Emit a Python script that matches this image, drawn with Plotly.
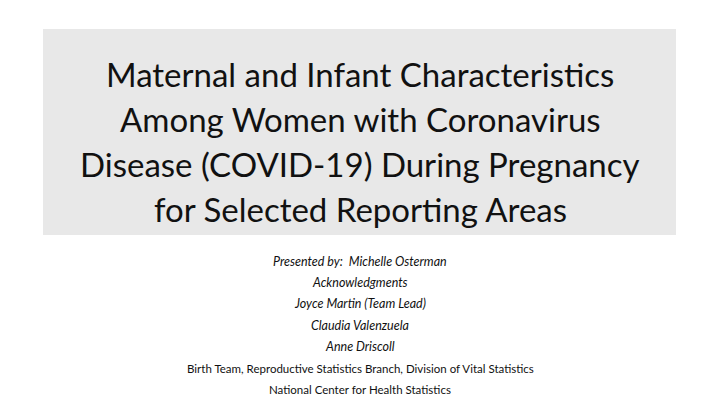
import plotly.graph_objects as go

W, H = 720, 405

title_lines = [
    "Maternal and Infant Characteristics",
    "Among Women with Coronavirus",
    "Disease (COVID-19) During Pregnancy",
    "for Selected Reporting Areas",
]
title_y = [74, 119, 164, 209]

credit_lines = [
    "Presented by:  Michelle Osterman",
    "Acknowledgments",
    "Joyce Martin (Team Lead)",
    "Claudia Valenzuela",
    "Anne Driscoll",
]
credit_y = [261, 282, 303, 325, 346]

footer_lines = [
    "Birth Team, Reproductive Statistics Branch, Division of Vital Statistics",
    "National Center for Health Statistics",
]
footer_y = [368, 389]

fig = go.Figure()

annotations = []
def add(txt, y, size):
    annotations.append(dict(text=txt, x=0.5, y=1 - y / H, xref="paper", yref="paper",
                            xanchor="center", yanchor="middle", showarrow=False,
                            font=dict(family="Lato", size=size, color="#111111")))

for txt, y in zip(title_lines, title_y):
    add(txt, y, 33)
for txt, y in zip(credit_lines, credit_y):
    add("<i>" + txt + "</i>", y, 12.5)
for txt, y in zip(footer_lines, footer_y):
    add(txt, y, 11.5)

fig.update_layout(
    width=W, height=H,
    margin=dict(l=0, r=0, t=0, b=0),
    paper_bgcolor="white", plot_bgcolor="white",
    xaxis=dict(visible=False, range=[0, 1]),
    yaxis=dict(visible=False, range=[0, 1]),
    annotations=annotations,
    shapes=[dict(type="rect", xref="paper", yref="paper",
                 x0=43 / W, x1=676 / W, y0=1 - 235 / H, y1=1 - 29 / H,
                 fillcolor="#e8e8e8", line=dict(width=0), layer="below")],
)

fig.write_html("out.html", config={"displayModeBar": False},
               post_script="document.body.style.margin='0';")
